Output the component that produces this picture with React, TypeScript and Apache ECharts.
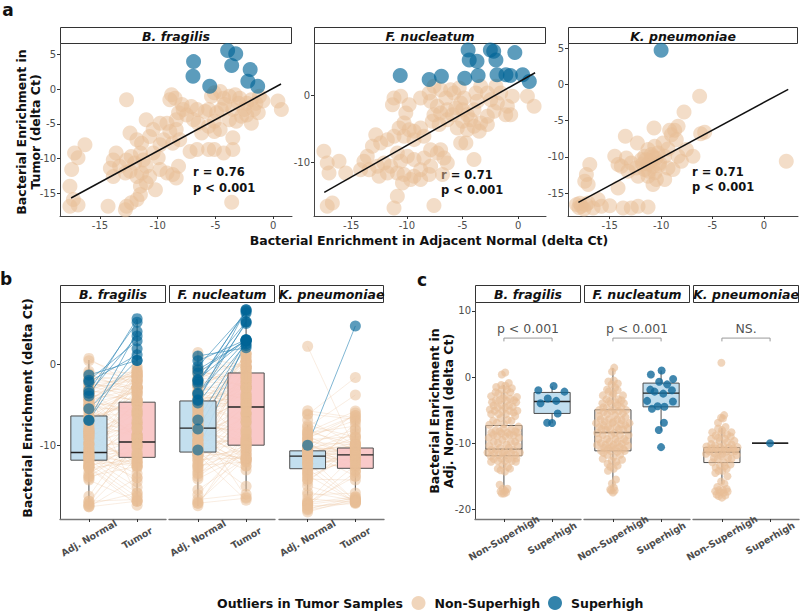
import React, { useEffect, useRef } from 'react';
import * as echarts from 'echarts';

const FONT = 'DejaVu Sans';
const SPECIES = ['B. fragilis', 'F. nucleatum', 'K. pneumoniae'];
const B_CATS = ['Adj. Normal', 'Tumor'];
const C_CATS = ['Non-Superhigh', 'Superhigh'];

// [adjacent normal, tumor] delta Ct pairs
const bfNon = [[-12.7,-1.5],[-8.8,-0.8],[-8.95,-1.5],[-8.5,-1.3],[-7.9,-2.2],[-7.8,-2.9],[-7.1,-2.5],[-7.5,-3.7],[-8.2,-3.4],[-8.4,-4.4],[-6.6,-2.9],[-6.9,-4.4],[-6.5,-4.9],[-5.9,-3.2],[-5.6,-2.9],[-5.35,-1.0],[-5.1,-0.5],[-4.6,-0.3],[-4.3,-1.3],[-4.2,-2.2],[-4.5,-2.9],[-4.9,-3.4],[-5.1,-4.6],[-5.6,-5.35],[-6.2,-6.3],[-5.1,-6.1],[-4.6,-5.8],[-3.8,-1.0],[-3.3,-0.8],[-2.9,-1.3],[-3.0,-2.0],[-3.5,-2.9],[-3.8,-4.4],[-3.2,-4.6],[-2.75,-3.9],[-2.5,-2.9],[-2.3,-2.0],[-1.9,-1.5],[-1.5,-2.0],[-1.2,-1.0],[-0.9,-1.7],[-1.7,-2.9],[-1.3,-3.4],[-1.9,-4.9],[-2.3,-3.7],[0.4,-1.7],[0.7,-2.9],[-3.5,-7.0],[-3.5,-8.7],[-4.3,-9.2],[-5.1,-8.7],[-5.6,-8.7],[-6.6,-8.7],[-7.2,-9.0],[-9.8,-4.9],[-9.2,-4.9],[-11.0,-4.4],[-10.4,-5.8],[-8.95,-6.1],[-8.4,-5.8],[-8.1,-7.3],[-8.7,-7.8],[-9.5,-7.3],[-9.8,-8.0],[-12.4,-6.3],[-11.8,-7.3],[-11.4,-7.8],[-10.7,-6.8],[-16.3,-8.0],[-17.2,-9.2],[-16.9,-9.9],[-17.45,-11.6],[-17.6,-14.0],[-17.3,-15.9],[-16.9,-16.7],[-17.6,-16.9],[-13.6,-9.2],[-13.85,-10.2],[-14.1,-11.4],[-13.85,-12.6],[-12.7,-10.2],[-12.3,-9.7],[-12.0,-10.65],[-11.5,-9.2],[-11.25,-10.2],[-11.0,-11.1],[-11.4,-12.1],[-10.7,-12.6],[-11.8,-12.6],[-12.4,-11.85],[-12.8,-12.1],[-13.3,-11.1],[-10.4,-9.2],[-9.96,-9.9],[-9.8,-11.6],[-9.2,-12.1],[-8.7,-12.3],[-8.2,-11.1],[-8.4,-12.8],[-10.2,-14.5],[-11.0,-13.5],[-11.5,-14.0],[-11.5,-15.2],[-11.8,-15.9],[-12.3,-16.4],[-12.7,-16.9],[-12.8,-17.4],[-14.3,-16.9],[-3.6,-16.3]];
const bfSup = [[-6.9,4.0],[-6.95,1.9],[-3.95,5.6],[-3.25,5.15],[-3.6,3.45],[-2.0,2.85],[-2.2,1.15],[-1.35,0.45],[-5.5,0.45]];

const fnNon = [[-11.16,-0.45],[-10.56,-0.2],[-11.3,-1.43],[-9.8,-1.43],[-10.1,-2.67],[-8.77,-0.45],[-8.0,0.3],[-7.57,1.29],[-6.97,0.79],[-7.87,-0.94],[-7.27,-1.68],[-6.5,-0.45],[-6.07,0.79],[-5.77,0.3],[-5.3,1.04],[-4.87,-0.45],[-5.17,-1.19],[-5.6,-1.93],[-6.37,-2.18],[-6.97,-2.67],[-7.57,-2.92],[-7.72,-3.9],[-7.1,-4.4],[-6.37,-3.66],[-5.9,-2.92],[-5.0,-2.18],[-4.57,-2.92],[-4.27,-3.66],[-3.97,-2.18],[-3.67,-0.94],[-3.8,0.3],[-3.37,1.29],[-2.77,0.3],[-2.47,-0.69],[-2.0,1.29],[-1.57,0.3],[-1.87,-1.19],[-2.17,-2.43],[-2.77,-3.17],[-3.37,-4.16],[-3.97,-4.65],[-3.5,-5.4],[-2.77,-4.4],[-4.57,-5.15],[-5.47,-4.9],[-5.0,-3.9],[-0.97,-1.68],[-0.52,-0.2],[-1.12,-2.92],[-0.67,-2.92],[0.83,-0.2],[1.43,-1.68],[-10.26,-4.16],[-10.7,-4.9],[-9.8,-5.15],[-9.36,-5.4],[-8.77,-4.9],[-8.47,-6.14],[-9.36,-6.63],[-10.26,-6.14],[-11.16,-6.14],[-11.76,-6.63],[-12.8,-5.9],[-12.36,-7.13],[-13.1,-7.62],[-13.56,-9.11],[-13.86,-9.85],[-14.16,-11.09],[-13.4,-11.09],[-12.66,-10.59],[-12.06,-10.1],[-11.46,-10.59],[-11.76,-11.58],[-12.5,-12.08],[-10.86,-8.61],[-9.96,-9.11],[-9.36,-9.6],[-10.56,-9.85],[-10.86,-11.58],[-10.26,-11.83],[-10.4,-13.07],[-9.36,-12.08],[-8.77,-11.09],[-8.47,-9.36],[-7.87,-8.12],[-7.27,-8.61],[-6.97,-8.12],[-6.67,-9.36],[-6.37,-10.1],[-6.8,-11.83],[-7.87,-10.59],[-8.0,-11.83],[-8.77,-12.57],[-9.66,-12.57],[-3.97,-9.6],[-4.7,-7.13],[-5.17,-7.13],[-17.46,-8.37],[-17.16,-10.1],[-17.0,-11.58],[-16.1,-9.85],[-15.5,-11.58],[-16.7,-16.04],[-17.16,-16.53],[-11.16,-16.78],[-10.86,-15.05],[-7.57,-16.43]];
const fnSup = [[-10.6,2.9],[-8.0,2.3],[-6.9,2.8],[-4.8,2.5],[-4.5,6.7],[-4.4,5.2],[-3.7,5.0],[-3.6,2.9],[-2.5,6.7],[-2.2,6.5],[-2.0,5.2],[-1.9,3.0],[-1.1,3.0],[-0.7,2.9],[-0.3,6.3],[0.4,3.0],[1.0,2.0]];

const kpNon = [[-6.25,-1.66],[-7.77,-3.82],[-10.69,-6.03],[-9.17,-6.35],[-8.68,-6.35],[-8.35,-5.8],[-9.0,-6.95],[-8.52,-7.64],[-6.15,-6.81],[-5.76,-6.62],[-13.48,-7.18],[-12.31,-8.09],[-11.27,-9.01],[-10.62,-8.55],[-9.81,-8.09],[-9.33,-8.92],[-14.51,-9.93],[-13.38,-10.16],[-12.9,-10.85],[-11.92,-10.39],[-11.6,-9.93],[-10.95,-9.7],[-10.3,-9.47],[-9.65,-9.93],[-10.14,-10.85],[-10.79,-11.31],[-11.6,-11.77],[-12.41,-11.54],[-13.22,-12.0],[-13.87,-11.31],[-14.19,-11.08],[-12.24,-12.69],[-11.27,-12.69],[-10.46,-13.15],[-9.65,-13.15],[-10.79,-13.84],[-9.33,-11.54],[-8.84,-11.77],[-8.03,-10.62],[-7.54,-9.01],[-6.9,-9.93],[-8.35,-9.93],[-16.94,-11.08],[-17.27,-12.46],[-17.43,-13.38],[-17.1,-13.84],[-14.19,-14.3],[-18.24,-16.6],[-17.76,-16.83],[-17.1,-16.37],[-16.13,-15.91],[-15.81,-16.83],[-15.0,-16.74],[-13.7,-17.06],[-12.9,-17.06],[-12.24,-16.83],[-11.27,-16.92],[-16.62,-17.06],[2.18,-10.62],[-11.0,-10.5],[-10.5,-10.2],[-11.3,-11.0],[-10.8,-10.0],[-11.5,-10.4],[-10.2,-11.2],[-11.8,-11.0],[-10.6,-12.2],[-11.2,-12.0],[-17.9,-16.4],[-18.0,-17.0],[-17.5,-17.2],[-17.3,-16.6]];
const kpSup = [[-10.0,4.7]];

const NON = [bfNon, fnNon, kpNon];
const SUP = [bfSup, fnSup, kpSup];

// regression line end points (adj, tumor)
const TREND = [[[-17.5,-15.7],[0.67,0.77]], [[-17.43,-14.46],[1.52,3.31]], [[-18.05,-16.28],[2.37,-0.69]]];
const R_TEXT = ['r = 0.76', 'r = 0.71', 'r = 0.71'];
const P_TEXT = ['p < 0.001', 'p < 0.001', 'p < 0.001'];

// box stats [min, Q1, median, Q3, max]
const B_BOX_ADJ = [[-17.5,-11.85,-10.9,-6.4,0.5],[-17.5,-10.85,-7.9,-4.55,1.6],[-16.2,-12.9,-11.35,-10.7,-7.5]];
const B_BOX_TUM = [[-17.5,-11.5,-9.6,-4.7,5.5],[-15.7,-10.0,-5.3,-1.1,6.7],[-15.6,-12.85,-11.2,-10.35,-6.6]];
const C_BOX_NON = [[-17.6,-11.9,-10.9,-7.32,-1.2],[-17.3,-11.16,-8.38,-4.95,1.36],[-16.16,-12.93,-11.36,-10.66,-7.73]];
const C_BOX_SUP = [[-7.0,-5.5,-3.69,-2.32,-1.4],[-8.1,-4.5,-2.42,-0.91,1.0],[-10,-10,-10,-10,-10]];
const C_TEST = ['p < 0.001', 'p < 0.001', 'NS.'];
const C_BRACKET = [5.4, 5.9];
const C_TEST_Y = 7.3;

const A_X_TICKS = [-15, -10, -5, 0];
const A_Y_TICKS = [[5, 0, -5, -10, -15], [0, -10], [5, 0, -5, -10, -15]];
const B_Y_TICKS = [0, -10];
const C_Y_TICKS = [10, 0, -10, -20];

// layout
const A_GRID = [{ left: 60, width: 232 }, { left: 314, width: 232 }, { left: 568, width: 230 }];
const A_TOP = 43, A_H = 173;
const A_XR = [[-18.46, 1.62], [-18.35, 2.5], [-19.06, 3.32]];
const A_YR = [[-18.3, 6.69], [-17.98, 7.73], [-18.17, 5.7]];
const B_GRID = [{ left: 60, width: 106 }, { left: 169, width: 106 }, { left: 279, width: 105 }];
const C_GRID = [{ left: 475, width: 106 }, { left: 584, width: 106 }, { left: 693, width: 106 }];
const BC_TOP = 302, BC_H = 217;
const B_YR = [-19.1, 7.65];
const C_YR = [-21.47, 11.36];

const TAN = 'rgba(232,190,150,0.65)';
const TAN_LINE = 'rgb(232,190,150)';
const BLUE = 'rgba(0,100,150,0.8)';
const BLUE_SOLID = '#12699a';

function vdc(n: number) {
  let v = 0, d = 1;
  while (n > 0) { d *= 2; v += (n % 2) / d; n = Math.floor(n / 2); }
  return v;
}

// quasirandom (van der Corput) offsets scaled by kernel density
function quasi(values: number[], maxW: number): number[] {
  const n = values.length;
  if (n < 2) return values.map(() => 0);
  const mean = values.reduce((a, b) => a + b, 0) / n;
  const sd = Math.sqrt(values.reduce((a, b) => a + (b - mean) ** 2, 0) / (n - 1));
  const s = [...values].sort((a, b) => a - b);
  const q = (p: number) => { const h = (n - 1) * p; const lo = Math.floor(h); const hi = Math.min(lo + 1, n - 1); return s[lo] + (h - lo) * (s[hi] - s[lo]); };
  const iqr = q(0.75) - q(0.25);
  let bw = 0.9 * Math.min(sd, iqr / 1.34) * Math.pow(n, -0.2);
  if (!(bw > 0)) bw = sd > 0 ? 0.9 * sd * Math.pow(n, -0.2) : 1;
  const dens = values.map(v => values.reduce((acc, w) => acc + Math.exp(-0.5 * ((v - w) / bw) ** 2), 0));
  const maxD = Math.max(...dens);
  const idx = values.map((_, i) => i).sort((a, b) => values[a] - values[b] || a - b);
  const rank: number[] = new Array(n);
  idx.forEach((id, r) => { rank[id] = r + 1; });
  return values.map((_, i) => (vdc(rank[i]) - 0.5) * 2 * maxW * dens[i] / maxD);
}

function axisBase(gridIndex: number, min: number, max: number, ticks: number[] | null, lineColor: string, lineWidth: number) {
  return {
    type: 'value', gridIndex, min, max,
    axisLine: { show: true, onZero: false, lineStyle: { color: lineColor, width: lineWidth } },
    axisTick: ticks ? { show: true, customValues: ticks, length: 3, lineStyle: { color: '#333' } } : { show: false },
    axisLabel: ticks ? { show: true, customValues: ticks, color: '#4d4d4d', fontSize: 10, fontFamily: FONT, margin: 4 } : { show: false },
    splitLine: { show: false },
  };
}

function catAxis(gi: number, cats: string[]) {
  const xa: any = axisBase(gi, 0.4, 2.6, [1, 2], '#777', 1.4);
  xa.axisLabel.rotate = 30;
  xa.axisLabel.fontWeight = 'bold';
  xa.axisLabel.fontSize = 9.5;
  xa.axisLabel.align = 'center';
  xa.axisLabel.verticalAlign = 'middle';
  xa.axisLabel.margin = 19;
  xa.axisLabel.formatter = (v: number) => cats[Math.round(v) - 1] || '';
  return xa;
}

function boxSeries(xi: number, yi: number, boxes: number[][], fills: string[]) {
  return {
    type: 'custom', xAxisIndex: xi, yAxisIndex: yi, silent: true,
    data: boxes.map((b, k) => [k + 1, ...b]),
    encode: { x: 0, y: [1, 2, 3, 4, 5] },
    renderItem: (params: any, api: any) => {
      const x = api.value(0);
      const vals = [1, 2, 3, 4, 5].map(k => api.value(k));
      const p = vals.map(v => api.coord([x, v]));
      const w = api.size([0.75, 0])[0];
      const cx = p[0][0];
      const left = cx - w / 2;
      const k = params.dataIndex;
      return {
        type: 'group', children: [
          { type: 'line', shape: { x1: cx, y1: p[4][1], x2: cx, y2: p[3][1] }, style: { stroke: '#4d4d4d', lineWidth: 1 } },
          { type: 'line', shape: { x1: cx, y1: p[1][1], x2: cx, y2: p[0][1] }, style: { stroke: '#4d4d4d', lineWidth: 1 } },
          { type: 'rect', shape: { x: left, y: p[3][1], width: w, height: p[1][1] - p[3][1] }, style: { fill: fills[k], stroke: '#4d4d4d', lineWidth: 1 } },
          { type: 'line', shape: { x1: left, y1: p[2][1], x2: left + w, y2: p[2][1] }, style: { stroke: '#222', lineWidth: 1.4 } },
        ],
      };
    },
  };
}

function txt(x: number, y: number, text: string, size: number, opts: any = {}) {
  return {
    type: 'text', x, y, rotation: opts.rotation || 0, silent: true,
    style: {
      text, fontSize: size, fontFamily: FONT, fontWeight: opts.weight || 'bold', fontStyle: opts.style || 'normal',
      fill: opts.fill || '#111', align: opts.align || 'center', verticalAlign: 'middle', lineHeight: opts.lineHeight || size * 1.15,
    },
  };
}

function strip(x: number, y: number, w: number, h: number, label: string) {
  return [
    { type: 'rect', silent: true, shape: { x: x + 0.5, y: y + 0.5, width: w - 1, height: h }, style: { fill: '#fff', stroke: '#333', lineWidth: 1 } },
    txt(x + w / 2, y + h / 2 + 1, label, 12.5, { style: 'italic' }),
  ];
}

function buildOption() {
  const grid: any[] = [], xAxis: any[] = [], yAxis: any[] = [], series: any[] = [], graphic: any[] = [];

  // Panel a
  for (let i = 0; i < 3; i++) {
    const gi = grid.length;
    grid.push({ left: A_GRID[i].left, top: A_TOP, width: A_GRID[i].width, height: A_H });
    xAxis.push(axisBase(gi, A_XR[i][0], A_XR[i][1], A_X_TICKS, '#444', 1));
    yAxis.push(axisBase(gi, A_YR[i][0], A_YR[i][1], A_Y_TICKS[i], '#444', 1));
    series.push({ type: 'scatter', xAxisIndex: gi, yAxisIndex: gi, data: NON[i], symbolSize: 15, itemStyle: { color: TAN }, silent: true });
    series.push({ type: 'scatter', xAxisIndex: gi, yAxisIndex: gi, data: SUP[i], symbolSize: 15, itemStyle: { color: BLUE }, silent: true });
    series.push({ type: 'line', xAxisIndex: gi, yAxisIndex: gi, data: TREND[i], symbol: 'none', lineStyle: { color: '#111', width: 1.5 }, silent: true });
    graphic.push(...strip(A_GRID[i].left, 27, A_GRID[i].width, 16, SPECIES[i]));
  }
  const rPos = [[193, 172, 187.5], [441, 174.5, 190], [692, 171.5, 187]];
  for (let i = 0; i < 3; i++) {
    graphic.push(txt(rPos[i][0], rPos[i][1], R_TEXT[i], 11.5, { align: 'left' }));
    graphic.push(txt(rPos[i][0], rPos[i][2], P_TEXT[i], 11.5, { align: 'left' }));
  }

  // Panel b
  for (let i = 0; i < 3; i++) {
    const gi = grid.length;
    grid.push({ left: B_GRID[i].left, top: BC_TOP, width: B_GRID[i].width, height: BC_H });
    xAxis.push(catAxis(gi, B_CATS));
    const ya: any = axisBase(gi, B_YR[0], B_YR[1], i === 0 ? B_Y_TICKS : null, '#444', 1);
    if (i > 0) ya.axisLine.show = false;
    yAxis.push(ya);
    series.push({ type: 'lines', coordinateSystem: 'cartesian2d', xAxisIndex: gi, yAxisIndex: gi, silent: true,
      data: NON[i].map(([a, t]) => ({ coords: [[1, a], [2, t]] })), lineStyle: { color: TAN_LINE, width: 0.7, opacity: 0.4 } });
    series.push({ type: 'lines', coordinateSystem: 'cartesian2d', xAxisIndex: gi, yAxisIndex: gi, silent: true,
      data: SUP[i].map(([a, t]) => ({ coords: [[1, a], [2, t]] })), lineStyle: { color: '#2a84b5', width: 0.8, opacity: 0.75 } });
    series.push(boxSeries(gi, gi, [B_BOX_ADJ[i], B_BOX_TUM[i]], ['rgba(190,220,238,0.92)', 'rgba(249,196,196,0.92)']));
    series.push({ type: 'scatter', xAxisIndex: gi, yAxisIndex: gi, silent: true, symbolSize: 11, itemStyle: { color: TAN },
      data: NON[i].flatMap(([a, t]) => [[1, a], [2, t]]) });
    series.push({ type: 'scatter', xAxisIndex: gi, yAxisIndex: gi, silent: true, symbolSize: 11, itemStyle: { color: BLUE },
      data: SUP[i].flatMap(([a, t]) => [[1, a], [2, t]]) });
    graphic.push(...strip(B_GRID[i].left, 285, B_GRID[i].width, 17, SPECIES[i]));
  }

  // Panel c
  for (let i = 0; i < 3; i++) {
    const gi = grid.length;
    grid.push({ left: C_GRID[i].left, top: BC_TOP, width: C_GRID[i].width, height: BC_H });
    xAxis.push(catAxis(gi, C_CATS));
    const ya: any = axisBase(gi, C_YR[0], C_YR[1], i === 0 ? C_Y_TICKS : null, '#444', 1);
    if (i > 0) ya.axisLine.show = false;
    yAxis.push(ya);
    const nonAdj = NON[i].map(p => p[0]);
    const supAdj = SUP[i].map(p => p[0]);
    const nonOff = quasi(nonAdj, 0.36);
    const supOff = quasi(supAdj, 0.36);
    series.push({ type: 'scatter', xAxisIndex: gi, yAxisIndex: gi, silent: true, symbolSize: 8, itemStyle: { color: 'rgba(232,190,150,0.8)' },
      data: nonAdj.map((v, k) => [1 + nonOff[k], v]) });
    series.push(boxSeries(gi, gi, [C_BOX_NON[i], C_BOX_SUP[i]], ['rgba(251,240,230,0.72)', 'rgba(190,220,238,0.95)']));
    series.push({ type: 'scatter', xAxisIndex: gi, yAxisIndex: gi, silent: true, symbolSize: 8, itemStyle: { color: BLUE_SOLID },
      data: supAdj.map((v, k) => [2 + supOff[k], v]) });
    series.push({ type: 'line', xAxisIndex: gi, yAxisIndex: gi, silent: true, symbol: 'none',
      data: [[1, C_BRACKET[0]], [1, C_BRACKET[1]], [2, C_BRACKET[1]], [2, C_BRACKET[0]]], lineStyle: { color: '#9a9a9a', width: 1 } });
    series.push({ type: 'scatter', xAxisIndex: gi, yAxisIndex: gi, silent: true, symbolSize: 0, itemStyle: { color: 'transparent' },
      data: [[1.5, C_TEST_Y]],
      label: { show: true, position: 'inside', formatter: C_TEST[i], fontSize: 12.5, color: '#222', fontFamily: FONT } });
    graphic.push(...strip(C_GRID[i].left, 285, C_GRID[i].width, 17, SPECIES[i]));
  }

  // titles and letters
  graphic.push(txt(8, 10, 'a', 17));
  graphic.push(txt(6, 279, 'b', 17));
  graphic.push(txt(422, 280, 'c', 17));
  graphic.push(txt(28, 132, 'Bacterial Enrichment in\nTumor (delta Ct)', 12.5, { rotation: Math.PI / 2, lineHeight: 14 }));
  graphic.push(txt(429, 240, 'Bacterial Enrichment in Adjacent Normal (delta Ct)', 12.5));
  graphic.push(txt(27.5, 408, 'Bacterial Enrichment (delta Ct)', 12.5, { rotation: Math.PI / 2 }));
  graphic.push(txt(441.5, 411, 'Bacterial Enrichment in\nAdj. Normal (delta Ct)', 12.5, { rotation: Math.PI / 2, lineHeight: 14 }));

  // legend
  graphic.push(txt(217, 603, 'Outliers in Tumor Samples', 12.5, { align: 'left' }));
  graphic.push({ type: 'circle', silent: true, shape: { cx: 418.5, cy: 603, r: 7 }, style: { fill: TAN } });
  graphic.push(txt(434.5, 603, 'Non-Superhigh', 12.5, { align: 'left' }));
  graphic.push({ type: 'circle', silent: true, shape: { cx: 555, cy: 603, r: 7 }, style: { fill: BLUE } });
  graphic.push(txt(571, 603, 'Superhigh', 12.5, { align: 'left' }));

  return { animation: false, backgroundColor: '#fff', textStyle: { fontFamily: FONT }, grid, xAxis, yAxis, series, graphic };
}

export default function App() {
  const ref = useRef<HTMLDivElement>(null);
  useEffect(() => {
    if (!ref.current) return;
    const chart = echarts.init(ref.current, undefined, { renderer: 'svg' });
    chart.setOption(buildOption() as any);
    return () => chart.dispose();
  }, []);
  return <div ref={ref} style={{ position: 'fixed', left: 0, top: 0, width: 800, height: 611 }} />;
}
